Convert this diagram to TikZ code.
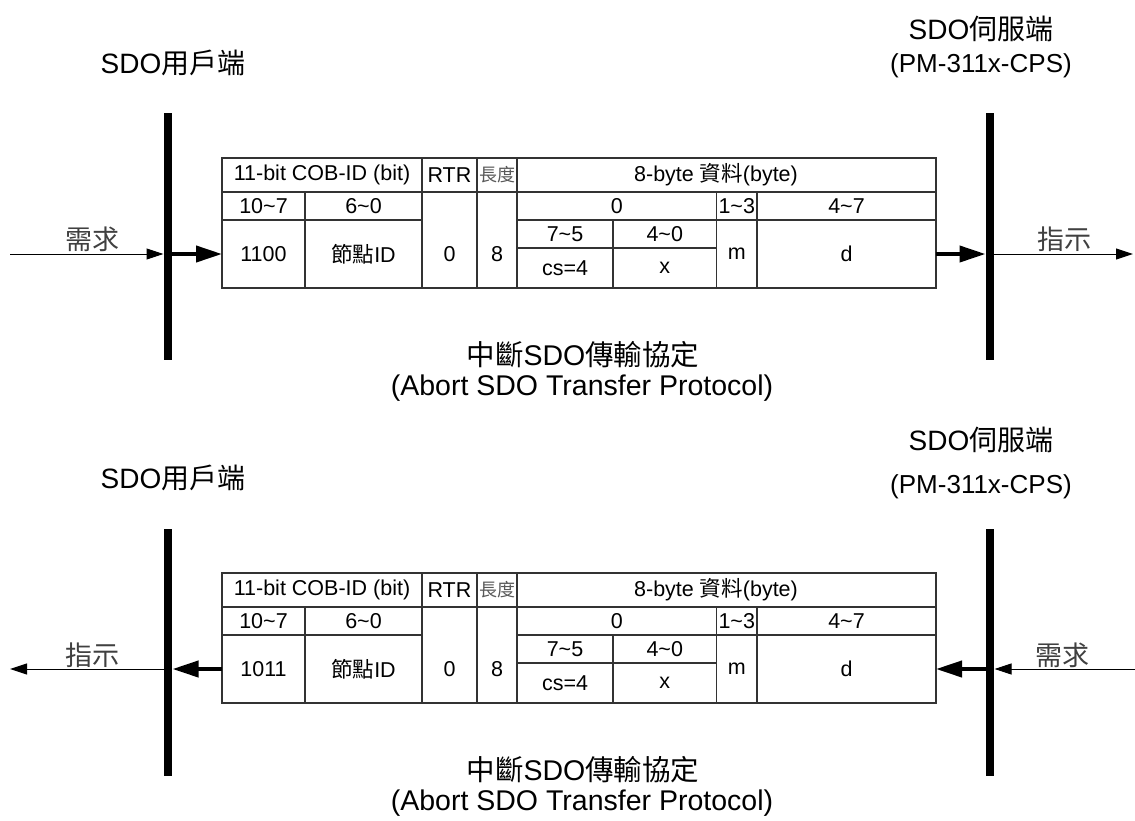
\documentclass[tikz,border=0pt]{standalone}
\usepackage{fontspec}
\setmainfont{Liberation Sans}
\newfontfamily\cjk{Noto Sans CJK TC}
\usetikzlibrary{arrows.meta}
\tikzset{
  grid/.style={draw=black!80, line width=1.2pt},
  cell/.style={font=\fontsize{21.5}{24}\selectfont, inner sep=0pt, anchor=center},
  smallcell/.style={font=\fontsize{18}{20}\selectfont, inner sep=0pt, text=black!65},
  lbl/.style={font=\fontsize{28}{32}\selectfont, inner sep=0pt},
  captiontext/.style={font=\fontsize{28.5}{32}\selectfont, inner sep=0pt},
  arlbl/.style={font=\fontsize{27}{30}\selectfont, inner sep=0pt, text=black!75},
  busbar/.style={line width=8pt},
  thinarrow/.style={line width=1pt, -{Triangle[length=17pt,width=11pt]}},
  thickarrow/.style={line width=4pt, -{Triangle[length=26pt,width=16pt]}},
}
\newcommand\canframe[3]{%
  \begin{scope}[yshift=#1]
    \draw[grid] (222,158) rectangle (936,288);
    \draw[grid] (222,192) -- (936,192);
    \draw[grid] (222,220) -- (422,220);
    \draw[grid] (517,220) -- (936,220);
    \draw[grid] (517,248) -- (716,248);
    \draw[grid] (305,192) -- (305,288);
    \draw[grid] (422,158) -- (422,288);
    \draw[grid] (477,158) -- (477,288);
    \draw[grid] (517,158) -- (517,288);
    \draw[grid] (613,220) -- (613,288);
    \draw[grid] (716.5,192) -- (716.5,288);
    \draw[grid] (757,192) -- (757,288);
    \node[cell] (#3h1) at (322,175) {11-bit COB-ID (bit)};
    \node[cell] (#3h2) at (449.5,175) {RTR};
    \node[smallcell] (#3h3) at (497,175) {\cjk 長度};
    \node[cell] (#3h4) at (716,175) {8-byte {\cjk 資料}(byte)};
    \node[cell] (#3a1) at (263.5,206) {10\textasciitilde7};
    \node[cell] (#3a2) at (363.5,206) {6\textasciitilde0};
    \node[cell] (#3a3) at (616.75,206) {0};
    \node[cell] (#3a4) at (736.75,206) {1\textasciitilde3};
    \node[cell] (#3a5) at (846.5,206) {4\textasciitilde7};
    \node[cell] (#3b1) at (263.5,254) {#2};
    \node[cell] (#3b2) at (363.5,254) {{\cjk 節點}ID};
    \node[cell] (#3b3) at (449.5,254) {0};
    \node[cell] (#3b4) at (497,254) {8};
    \node[cell] (#3b5) at (565,234) {7\textasciitilde5};
    \node[cell] (#3b6) at (664.75,234) {4\textasciitilde0};
    \node[cell] (#3b7) at (565,268) {cs=4};
    \node[cell] (#3b8) at (664.75,268) {x};
    \node[cell] (#3b9) at (736.75,254) {m};
    \node[cell] (#3b10) at (846.5,254) {d};
    \coordinate (#3L) at (222,254);
    \coordinate (#3R) at (936,254);
    \node[captiontext] (#3c1) at (583,355) {\cjk 中斷{\rmfamily SDO}傳輸協定};
    \node[captiontext] (#3c2) at (582,388) {(Abort SDO Transfer Protocol)};
  \end{scope}}
\begin{document}
\begin{tikzpicture}[x=1pt,y=-1pt]
\useasboundingbox[fill=white] (0,0) rectangle (1135,820);
% ---------- top ----------
\node[lbl] (cli1) at (173,63) {SDO{\cjk 用戶端}};
\node[lbl] (srv1) at (981,29) {SDO{\cjk 伺服端}};
\node[font=\fontsize{26}{30}\selectfont, inner sep=0pt] (srvb1) at (981,66) {(PM-311x-CPS)};
\coordinate (lb1t) at (168,113);
\coordinate (lb1b) at (168,360);
\coordinate (rb1t) at (990,113);
\coordinate (rb1b) at (990,360);
\draw[busbar] (lb1t) -- (lb1b);
\draw[busbar] (rb1t) -- (rb1b);
\canframe{0pt}{1100}{t}
\coordinate (in1) at (10,254);
\coordinate (lb1l) at (163.5,254);
\coordinate (lb1r) at (172,254);
\coordinate (rb1l) at (985.5,254);
\coordinate (rb1r) at (994,254);
\coordinate (out1) at (1133,254);
\draw[thinarrow] (in1) -- (lb1l);
\draw[thickarrow] (lb1r) -- (tL);
\draw[thickarrow] (tR) -- (rb1l);
\draw[thinarrow] (rb1r) -- (out1);
\node[arlbl] (req1) at (92,239) {\cjk 需求};
\node[arlbl] (ind1) at (1064,239) {\cjk 指示};
% ---------- bottom ----------
\node[lbl] (cli2) at (173,478) {SDO{\cjk 用戶端}};
\node[lbl] (srv2) at (981,440) {SDO{\cjk 伺服端}};
\node[font=\fontsize{26}{30}\selectfont, inner sep=0pt] (srvb2) at (981,487) {(PM-311x-CPS)};
\coordinate (lb2t) at (168,529);
\coordinate (lb2b) at (168,776);
\coordinate (rb2t) at (990,529);
\coordinate (rb2b) at (990,776);
\draw[busbar] (lb2t) -- (lb2b);
\draw[busbar] (rb2t) -- (rb2b);
\canframe{-415pt}{1011}{b}
\coordinate (out2) at (10,669);
\coordinate (lb2l) at (164,669);
\coordinate (lb2r) at (172.5,669);
\coordinate (rb2l) at (986,669);
\coordinate (rb2r) at (994.5,669);
\coordinate (in2) at (1135,669);
\draw[thinarrow] (lb2l) -- (out2);
\draw[thickarrow] (bL) -- (lb2r);
\draw[thickarrow] (rb2l) -- (bR);
\draw[thinarrow] (in2) -- (rb2r);
\node[arlbl] (ind2) at (92,655) {\cjk 指示};
\node[arlbl] (req2) at (1062,655) {\cjk 需求};
\end{tikzpicture}
\end{document}
